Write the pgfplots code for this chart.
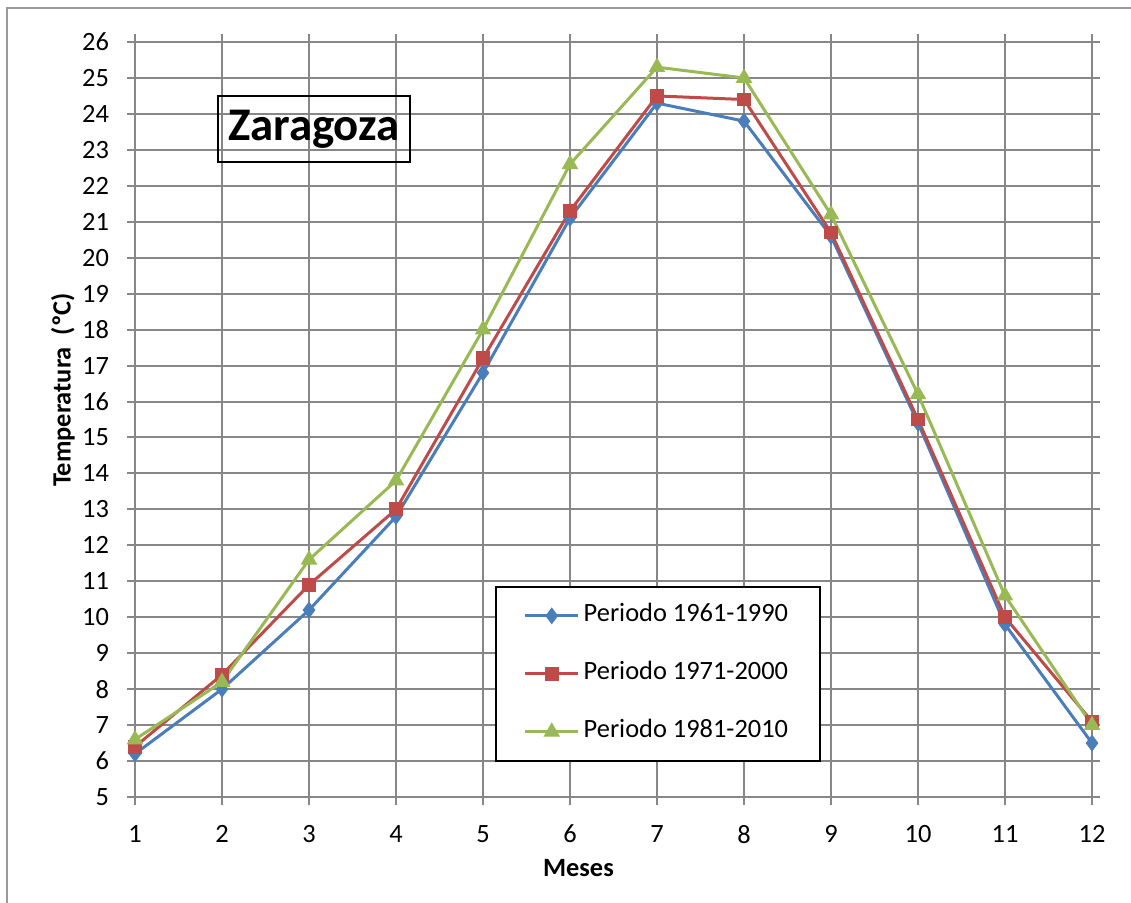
\documentclass[border=0pt]{standalone}
\usepackage{fontspec}
\setmainfont{Carlito}
\usepackage{pgfplots}
\pgfplotsset{compat=1.18}

\definecolor{serA}{HTML}{4A7EBB}
\definecolor{serB}{HTML}{BE4B48}
\definecolor{serC}{HTML}{98B954}
\definecolor{gridc}{HTML}{878787}
\definecolor{framec}{HTML}{9A9A9A}

\begin{document}
\begin{tikzpicture}[font=\fontsize{13.2}{16}\selectfont]
\useasboundingbox (0,0) rectangle (565.5pt,451pt);
% outer chart frame
\draw[framec, line width=0.8pt] (3.5pt,-20pt) rectangle (600pt,447pt);
\begin{axis}[
  at={(67.5pt,52.5pt)}, anchor=south west,
  scale only axis, width=478.5pt, height=377.5pt,
  xmin=1, xmax=12, ymin=5, ymax=26,
  xtick={1,...,12}, ytick={5,...,26},
  grid=major, grid style={gridc, line width=1pt},
  axis line style={gridc, line width=1pt},
  tick style={gridc, line width=1pt},
  tick align=outside, major tick length=4pt,
  /pgf/number format/assume math mode=true,
  yticklabel style={anchor=east, xshift=-5.5pt},
  xticklabel style={anchor=north, yshift=-6.5pt},
  xlabel={\bfseries Meses},
  ylabel={\bfseries Temperatura~ (ºC)},
  xlabel style={at={(axis description cs:0.4634,-0.094)}, anchor=center},
  ylabel style={at={(axis description cs:-0.0753,0.539)}, anchor=center, rotate=0},
  legend cell align=left,
  legend image code/.code={%
    \draw[mark repeat=2, mark phase=2, #1] plot coordinates {(0pt,0pt) (13.25pt,0pt) (26.5pt,0pt)};},
  legend style={at={(axis description cs:0.376,0.2795)}, anchor=north west,
    draw=black, line width=0.9pt, fill=white,
    inner xsep=14pt, inner ysep=8.5pt, row sep=17pt,
    nodes={inner xsep=2pt, inner ysep=0pt, text height=9pt, text depth=3pt}},
]
\addplot[serA, line width=1.5pt, mark=diamond*, mark size=3pt, mark options={solid}]
  coordinates {(1,6.2) (2,8.0) (3,10.2) (4,12.8) (5,16.8) (6,21.1) (7,24.3) (8,23.8) (9,20.6) (10,15.4) (11,9.8) (12,6.5)};
\addlegendentry{Periodo 1961-1990}
\addplot[serB, line width=1.5pt, mark=square*, mark size=2.7pt, mark options={solid}]
  coordinates {(1,6.4) (2,8.4) (3,10.9) (4,13.0) (5,17.2) (6,21.3) (7,24.5) (8,24.4) (9,20.7) (10,15.5) (11,10.0) (12,7.1)};
\addlegendentry{Periodo 1971-2000}
\addplot[serC, line width=1.5pt, mark=triangle*, mark size=3.3pt, mark options={solid}]
  coordinates {(1,6.6) (2,8.2) (3,11.6) (4,13.8) (5,18.0) (6,22.6) (7,25.3) (8,25.0) (9,21.2) (10,16.2) (11,10.6) (12,7.0)};
\addlegendentry{Periodo 1981-2010}
\end{axis}
% title box
\node[draw=black, line width=1pt, minimum width=96pt, minimum height=33pt, inner sep=0pt,
      font=\fontsize{23.4}{28}\selectfont\bfseries] at (157pt,386.5pt) {Zaragoza};
\end{tikzpicture}
\end{document}
